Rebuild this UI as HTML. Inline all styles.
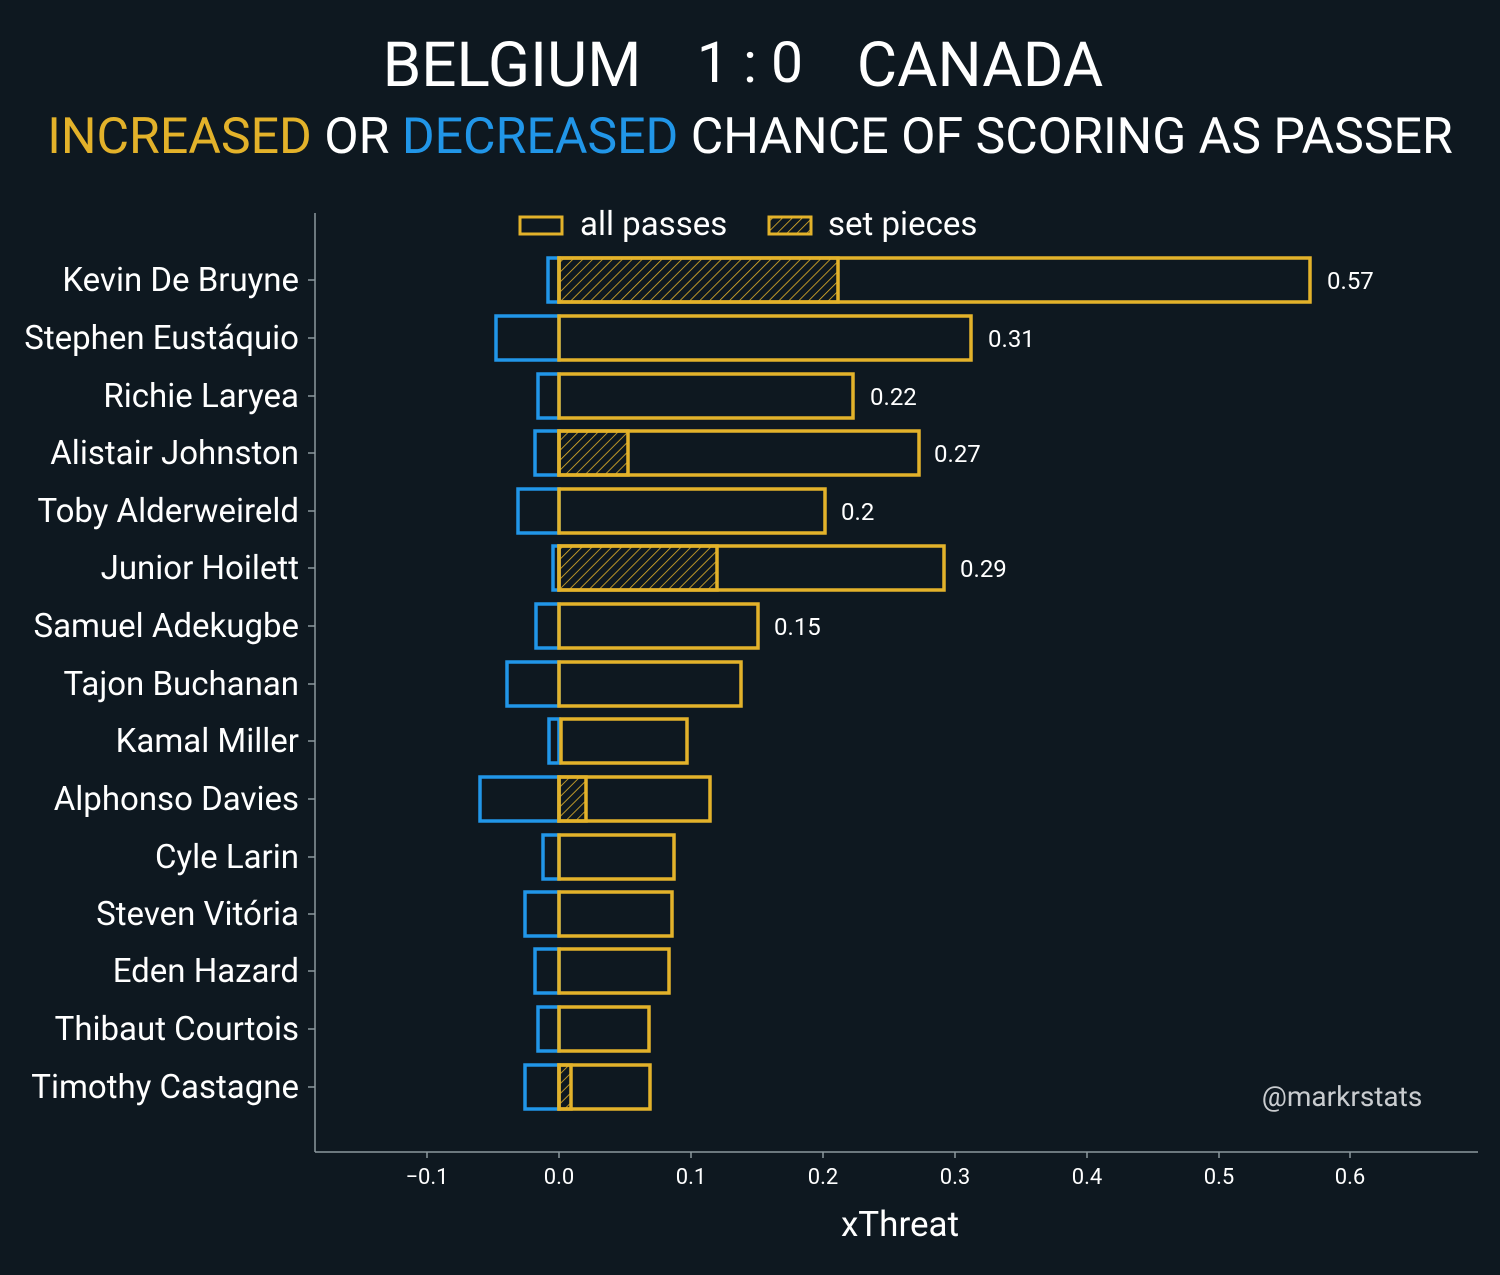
<!DOCTYPE html>
<html><head><meta charset="utf-8"><style>
html,body{margin:0;padding:0;background:#0e1820;}
svg{display:block;font-family:"Roboto","Liberation Sans",sans-serif;}
</style></head><body>
<svg width="1500" height="1275" viewBox="0 0 1500 1275" xmlns="http://www.w3.org/2000/svg">
<defs>
<pattern id="h" patternUnits="userSpaceOnUse" width="7" height="7" patternTransform="rotate(45)">
<line x1="0" y1="0" x2="0" y2="7" stroke="#e3b22a" stroke-width="1.6"/>
</pattern>
</defs>
<rect width="1500" height="1275" fill="#0e1820"/>
<text x="512" y="86" font-size="62" fill="#fff" text-anchor="middle">BELGIUM</text>
<text x="750" y="82" font-size="57" fill="#fff" text-anchor="middle">1 : 0</text>
<text x="980" y="86" font-size="62" fill="#fff" text-anchor="middle">CANADA</text>
<text x="750" y="153" font-size="50" fill="#fff" text-anchor="middle"><tspan fill="#e3b22a">INCREASED</tspan> OR <tspan fill="#2196e8">DECREASED</tspan> CHANCE OF SCORING AS PASSER</text>
<g stroke="#8c989e" stroke-width="1.5" fill="none">
<line x1="315" y1="213" x2="315" y2="1152"/>
<line x1="315" y1="1152" x2="1478" y2="1152"/>
<line x1="427" y1="1152" x2="427" y2="1158"/><line x1="559" y1="1152" x2="559" y2="1158"/><line x1="691" y1="1152" x2="691" y2="1158"/><line x1="823" y1="1152" x2="823" y2="1158"/><line x1="955" y1="1152" x2="955" y2="1158"/><line x1="1087" y1="1152" x2="1087" y2="1158"/><line x1="1219" y1="1152" x2="1219" y2="1158"/><line x1="1350" y1="1152" x2="1350" y2="1158"/>
<line x1="308" y1="280" x2="315" y2="280"/><line x1="308" y1="338" x2="315" y2="338"/><line x1="308" y1="396" x2="315" y2="396"/><line x1="308" y1="453" x2="315" y2="453"/><line x1="308" y1="511" x2="315" y2="511"/><line x1="308" y1="568" x2="315" y2="568"/><line x1="308" y1="626" x2="315" y2="626"/><line x1="308" y1="684" x2="315" y2="684"/><line x1="308" y1="741" x2="315" y2="741"/><line x1="308" y1="799" x2="315" y2="799"/><line x1="308" y1="857" x2="315" y2="857"/><line x1="308" y1="914" x2="315" y2="914"/><line x1="308" y1="971" x2="315" y2="971"/><line x1="308" y1="1029" x2="315" y2="1029"/><line x1="308" y1="1087" x2="315" y2="1087"/>
</g>
<g font-size="22" fill="#fff" text-anchor="middle">
<text x="427" y="1184">−0.1</text><text x="559" y="1184">0.0</text><text x="691" y="1184">0.1</text><text x="823" y="1184">0.2</text><text x="955" y="1184">0.3</text><text x="1087" y="1184">0.4</text><text x="1219" y="1184">0.5</text><text x="1350" y="1184">0.6</text>
</g>
<text x="900" y="1236" font-size="35" fill="#fff" text-anchor="middle">xThreat</text>
<text x="1342" y="1106" font-size="28" fill="#c9cccf" text-anchor="middle">@markrstats</text>
<rect x="520" y="217" width="42" height="17" fill="none" stroke="#e3b22a" stroke-width="3"/>
<text x="580" y="235" font-size="33" fill="#fff">all passes</text>
<rect x="769" y="217" width="42" height="17" fill="url(#h)" stroke="#e3b22a" stroke-width="3"/>
<text x="828" y="235" font-size="33" fill="#fff">set pieces</text>

<g font-size="33" fill="#fff" text-anchor="end">
<text x="299" y="291">Kevin De Bruyne</text>
<text x="299" y="349">Stephen Eustáquio</text>
<text x="299" y="407">Richie Laryea</text>
<text x="299" y="464">Alistair Johnston</text>
<text x="299" y="522">Toby Alderweireld</text>
<text x="299" y="579">Junior Hoilett</text>
<text x="299" y="637">Samuel Adekugbe</text>
<text x="299" y="695">Tajon Buchanan</text>
<text x="299" y="752">Kamal Miller</text>
<text x="299" y="810">Alphonso Davies</text>
<text x="299" y="868">Cyle Larin</text>
<text x="299" y="925">Steven Vitória</text>
<text x="299" y="982">Eden Hazard</text>
<text x="299" y="1040">Thibaut Courtois</text>
<text x="299" y="1098">Timothy Castagne</text>
</g>

<g fill="none" stroke="#2196e8" stroke-width="3.5">
<rect x="548" y="258" width="11" height="44"/>
<rect x="496" y="316" width="63" height="44"/>
<rect x="538" y="374" width="21" height="44"/>
<rect x="535" y="431" width="24" height="44"/>
<rect x="518" y="489" width="41" height="44"/>
<rect x="553" y="546" width="6" height="44"/>
<rect x="536" y="604" width="23" height="44"/>
<rect x="507" y="662" width="52" height="44"/>
<rect x="549" y="719" width="10" height="44"/>
<rect x="480" y="777" width="79" height="44"/>
<rect x="543" y="835" width="16" height="44"/>
<rect x="525" y="892" width="34" height="44"/>
<rect x="535" y="949" width="24" height="44"/>
<rect x="538" y="1007" width="21" height="44"/>
<rect x="525" y="1065" width="34" height="44"/>
</g>

<g fill="url(#h)" stroke="#e3b22a" stroke-width="3.5">
<rect x="559" y="258" width="279" height="44"/>
<rect x="559" y="431" width="69" height="44"/>
<rect x="559" y="546" width="158" height="44"/>
<rect x="559" y="777" width="27" height="44"/>
<rect x="559" y="1065" width="12" height="44"/>
</g>

<g fill="none" stroke="#e3b22a" stroke-width="3.5">
<rect x="559" y="258" width="751" height="44"/>
<rect x="559" y="316" width="412" height="44"/>
<rect x="559" y="374" width="294" height="44"/>
<rect x="559" y="431" width="360" height="44"/>
<rect x="559" y="489" width="266" height="44"/>
<rect x="559" y="546" width="385" height="44"/>
<rect x="559" y="604" width="199" height="44"/>
<rect x="559" y="662" width="182" height="44"/>
<rect x="561" y="719" width="126" height="44"/>
<rect x="559" y="777" width="151" height="44"/>
<rect x="559" y="835" width="115" height="44"/>
<rect x="559" y="892" width="113" height="44"/>
<rect x="559" y="949" width="110" height="44"/>
<rect x="559" y="1007" width="90" height="44"/>
<rect x="559" y="1065" width="91" height="44"/>
</g>

<g font-size="24" fill="#fff">
<text x="1327" y="289">0.57</text>
<text x="988" y="347">0.31</text>
<text x="870" y="405">0.22</text>
<text x="934" y="462">0.27</text>
<text x="841" y="520">0.2</text>
<text x="960" y="577">0.29</text>
<text x="774" y="635">0.15</text>
</g>
</svg>
</body></html>
